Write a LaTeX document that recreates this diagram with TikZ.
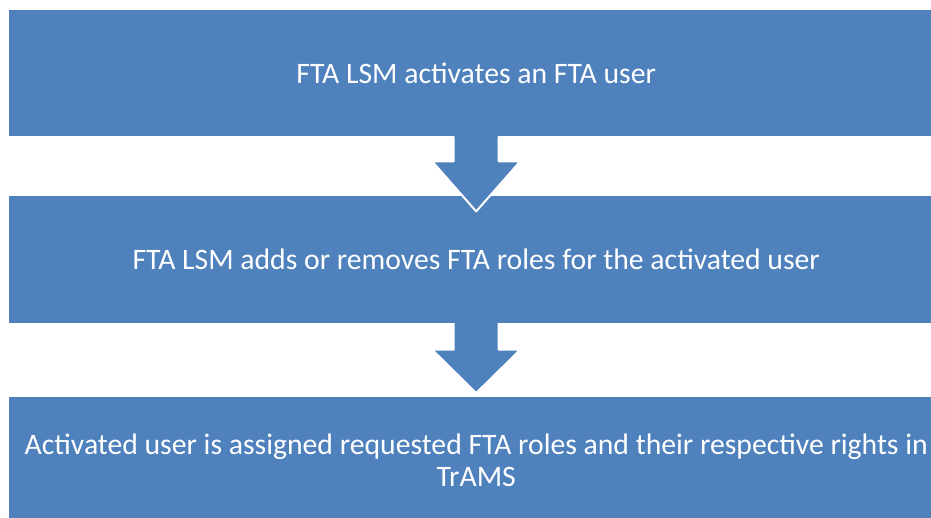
\documentclass[tikz,border=0pt]{standalone}
\usepackage{fontspec}
\setmainfont{Carlito}
\usetikzlibrary{calc}
\definecolor{boxblue}{HTML}{4F81BD}
\tikzset{
  stepbox/.style={fill=boxblue, draw=none, minimum width=935pt, inner sep=0pt,
    text=white, font=\fontsize{29.7}{32.5}\selectfont, align=center, anchor=north west},
  arrowfill/.style={fill=boxblue},
  arrowedge/.style={draw=white, line width=2pt, line join=round},
}
\begin{document}
\begin{tikzpicture}[x=1pt,y=-1pt]
\useasboundingbox (0,0) rectangle (931,518);
\clip (0,0) rectangle (931,518);
\node[stepbox, minimum height=126.5pt] (b1) at (8.5,9.5) {FTA LSM activates an FTA user};
\node[stepbox, minimum height=126.7pt] (b2) at (8.5,196) {FTA LSM adds or removes FTA roles for the activated user};
\node[stepbox, minimum height=126pt] (b3) at (8.5,397) {Activated user is assigned requested FTA roles and their respective rights in\\TrAMS};
% arrow 1
\coordinate (a1) at (b1.south);
\fill[arrowfill] ($(a1)+(-22.5,-2)$) -- ($(a1)+(-22.5,25)$) -- ($(a1)+(-44,25)$) -- ($(a1)+(0,75)$)
  -- ($(a1)+(44,25)$) -- ($(a1)+(22.5,25)$) -- ($(a1)+(22.5,-2)$) -- cycle;
\draw[arrowedge] ($(a1)+(-22.5,0)$) -- ($(a1)+(-22.5,25)$) -- ($(a1)+(-44,25)$) -- ($(a1)+(0,75)$)
  -- ($(a1)+(44,25)$) -- ($(a1)+(22.5,25)$) -- ($(a1)+(22.5,0)$);
% arrow 2
\coordinate (a2) at (b2.south);
\fill[arrowfill] ($(a2)+(-22.5,-2)$) -- ($(a2)+(-22.5,26.6)$) -- ($(a2)+(-44,26.6)$) -- ($(a2)+(0,70)$)
  -- ($(a2)+(44,26.6)$) -- ($(a2)+(22.5,26.6)$) -- ($(a2)+(22.5,-2)$) -- cycle;
\draw[arrowedge] ($(a2)+(-22.5,0)$) -- ($(a2)+(-22.5,26.6)$) -- ($(a2)+(-44,26.6)$) -- ($(a2)+(0,70)$)
  -- ($(a2)+(44,26.6)$) -- ($(a2)+(22.5,26.6)$) -- ($(a2)+(22.5,0)$);
\end{tikzpicture}
\end{document}
